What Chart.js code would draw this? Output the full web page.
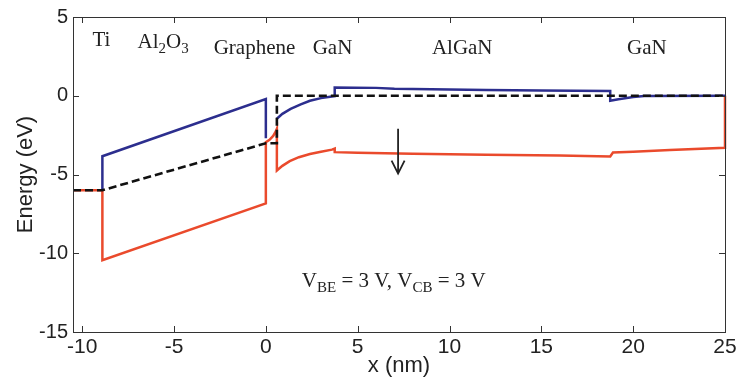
<!DOCTYPE html>
<html>
<head>
<meta charset="utf-8">
<script src="https://cdn.jsdelivr.net/npm/chart.js@4.4.1/dist/chart.umd.min.js"></script>
<style>
  html, body { margin: 0; padding: 0; background: #fff; }
  canvas { display: block; }
</style>
</head>
<body>
<canvas id="bandChart" width="742" height="385" style="width:742px;height:385px"></canvas>
<script>
// band diagram (x in nm, energy in eV)
const xTicks = [-10, -5, 0, 5, 10, 15, 20, 25];
const yTicks = [-15, -10, -5, 0, 5];

// conduction band (blue), null = break in the line
const cbX = [-8.9, -8.9, 0, 0, 0.3, 0.6, 0.9, 1.35, 1.9, 2.4, 3.0, 3.5, 3.75, 3.75, 6, 7, 9, 12, 15, 18.75, 18.75, 19.2, 20, 20.6, 25];
const cbE = [-6, -3.84, -0.21, -2.7, null, -1.46, -1.15, -0.84, -0.55, -0.32, -0.15, -0.06, -0.03, 0.53, 0.5, 0.45, 0.42, 0.37, 0.33, 0.3, -0.32, -0.22, -0.08, -0.02, 0];

// valence band (red)
const vbX = [-10.5, -8.9, -8.9, 0, 0, 0.2, 0.4, 0.55, 0.6, 0.6, 0.9, 1.3, 1.8, 2.4, 3.0, 3.6, 3.75, 3.75, 5, 8, 12, 16, 18.75, 18.9, 20, 22, 25, 25];
const vbE = [-6, -6, -10.44, -6.84, -2.95, -2.8, -2.55, -2.25, -2.1, -4.75, -4.45, -4.15, -3.9, -3.7, -3.55, -3.42, -3.35, -3.58, -3.62, -3.68, -3.75, -3.8, -3.85, -3.6, -3.55, -3.45, -3.3, 0];

// Fermi level (black dashed)
const efX = [-10.5, -8.9, 0, 0.6, 0.6, 25];
const efE = [-6, -6, -3.02, -3.02, 0, 0];

// layer names along the top
const layerNames = [
  { parts: [['Ti']], x: -9.44, y: 3.16 },
  { parts: [['Al'], ['2', true], ['O'], ['3', true]], x: -6.99, y: 3.04 },
  { parts: [['Graphene']], x: -2.84, y: 2.66 },
  { parts: [['GaN']], x: 2.55, y: 2.66 },
  { parts: [['AlGaN']], x: 9.04, y: 2.66 },
  { parts: [['GaN']], x: 19.67, y: 2.66 }
];
const biasNote = { parts: [['V'], ['BE', true], [' = 3 V, V'], ['CB', true], [' = 3 V']], x: 1.96, y: -12.15 };
const arrowX = 7.2, arrowFrom = -2.1, arrowTo = -4.94;

const toPoints = (xs, ys) => xs.map((x, i) => ({ x: x, y: ys[i] }));

const serif = '"Liberation Serif", "Times New Roman", serif';
const sans = '"Liberation Sans", Arial, sans-serif';

function drawRich(ctx, parts, x, y) {
  let cx = x;
  ctx.textBaseline = 'alphabetic';
  ctx.textAlign = 'left';
  parts.forEach(function (p) {
    const sub = p[1] === true;
    ctx.font = (sub ? '15px ' : '21px ') + serif;
    ctx.fillText(p[0], cx, sub ? y + 5 : y);
    cx += ctx.measureText(p[0]).width;
  });
}

const decorations = {
  id: 'decorations',
  afterDatasetsDraw(chart) {
    const ctx = chart.ctx;
    const a = chart.chartArea;
    const xs = chart.scales.x, ys = chart.scales.y;
    ctx.save();
    // box with inward ticks
    ctx.strokeStyle = '#333';
    ctx.lineWidth = 1;
    ctx.strokeRect(a.left + 0.5, a.top + 0.5, a.right - a.left, a.bottom - a.top);
    ctx.beginPath();
    xTicks.forEach(function (v) {
      const px = Math.round(xs.getPixelForValue(v)) + 0.5;
      ctx.moveTo(px, a.bottom); ctx.lineTo(px, a.bottom - 6);
      ctx.moveTo(px, a.top); ctx.lineTo(px, a.top + 6);
    });
    yTicks.forEach(function (v) {
      const py = Math.round(ys.getPixelForValue(v)) + 0.5;
      ctx.moveTo(a.left, py); ctx.lineTo(a.left + 6, py);
      ctx.moveTo(a.right, py); ctx.lineTo(a.right - 6, py);
    });
    ctx.stroke();

    // text labels
    ctx.fillStyle = '#222';
    layerNames.forEach(function (l) {
      drawRich(ctx, l.parts, xs.getPixelForValue(l.x), ys.getPixelForValue(l.y));
    });
    drawRich(ctx, biasNote.parts, xs.getPixelForValue(biasNote.x), ys.getPixelForValue(biasNote.y));

    // arrow
    const ax = xs.getPixelForValue(arrowX);
    const ay0 = ys.getPixelForValue(arrowFrom), ay1 = ys.getPixelForValue(arrowTo);
    ctx.strokeStyle = '#222';
    ctx.lineWidth = 1.8;
    ctx.beginPath();
    ctx.moveTo(ax, ay0); ctx.lineTo(ax, ay1);
    ctx.moveTo(ax - 6.5, ay1 - 13); ctx.lineTo(ax, ay1); ctx.lineTo(ax + 6.5, ay1 - 13);
    ctx.stroke();
    ctx.restore();
  }
};

new Chart(document.getElementById('bandChart').getContext('2d'), {
  type: 'scatter',
  data: {
    datasets: [
      {
        label: 'Valence band',
        data: toPoints(vbX, vbE),
        showLine: true,
        borderColor: '#ea4a2c',
        borderWidth: 2.5,
        pointRadius: 0,
        order: 2,
        clip: 4
      },
      {
        label: 'Conduction band',
        data: toPoints(cbX, cbE),
        showLine: true,
        borderColor: '#2c2e8e',
        borderWidth: 2.5,
        pointRadius: 0,
        spanGaps: false,
        order: 1,
        clip: 4
      },
      {
        label: 'Fermi level',
        data: toPoints(efX, efE),
        showLine: true,
        borderColor: '#111',
        borderWidth: 2.6,
        borderDash: [8, 4],
        pointRadius: 0,
        order: 0,
        clip: 4
      }
    ]
  },
  options: {
    responsive: false,
    animation: false,
    devicePixelRatio: 1,
    layout: { padding: { top: 16, right: 17, left: 0, bottom: 0 } },
    plugins: {
      legend: { display: false },
      tooltip: { enabled: false }
    },
    scales: {
      x: {
        type: 'linear',
        min: -10.5,
        max: 25,
        afterFit: function (s) { s.height = 53; },
        grid: { display: false, drawTicks: false },
        border: { display: false },
        ticks: {
          stepSize: 5,
          includeBounds: false,
          padding: 3,
          color: '#222',
          font: { family: sans, size: 21 }
        },
        title: {
          display: true,
          text: 'x (nm)',
          color: '#222',
          font: { family: sans, size: 22 },
          padding: { top: 0, bottom: 6 }
        }
      },
      y: {
        type: 'linear',
        min: -15,
        max: 5,
        afterFit: function (s) { s.width = 73; },
        grid: { display: false, drawTicks: false },
        border: { display: false },
        ticks: {
          stepSize: 5,
          padding: 5,
          color: '#222',
          font: { family: sans, size: 20 }
        },
        title: {
          display: true,
          text: 'Energy (eV)',
          color: '#222',
          font: { family: sans, size: 22 },
          padding: { top: 13, bottom: 0 }
        }
      }
    }
  },
  plugins: [decorations]
});
</script>
</body>
</html>
